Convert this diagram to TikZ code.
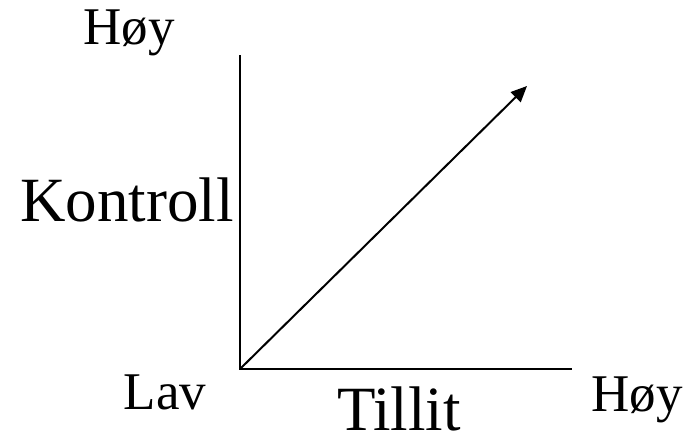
\documentclass[tikz,border=0pt]{standalone}
\usepackage{fontspec}
\setmainfont{Liberation Serif}
\usetikzlibrary{arrows.meta}
\begin{document}
\begin{tikzpicture}[x=1pt,y=-1pt,
  small/.style={anchor=base,inner sep=0pt,font=\fontsize{53}{53}\selectfont},
  big/.style={anchor=base,inner sep=0pt,font=\fontsize{63}{63}\selectfont},
  axis/.style={line width=2pt},
  arr/.style={line width=2pt,-{Triangle[length=16pt,width=14pt]}}]
\useasboundingbox (0,0) rectangle (689,442);
\coordinate (o) at (240,369);
\coordinate (ytop) at (240,55);
\coordinate (xend) at (572,369);
\coordinate (tip) at (527,86);
\draw[axis] (ytop) -- (o) -- (xend);
\draw[arr] (o) -- (tip);
\node[small] (hoyy) at (129,44) {Høy};
\node[big] (kontroll) at (127,221) {Kontroll};
\node[small] (lav) at (165,409) {Lav};
\node[big] (tillit) at (399,430) {Tillit};
\node[small] (hoyx) at (637,411) {Høy};
\end{tikzpicture}
\end{document}
